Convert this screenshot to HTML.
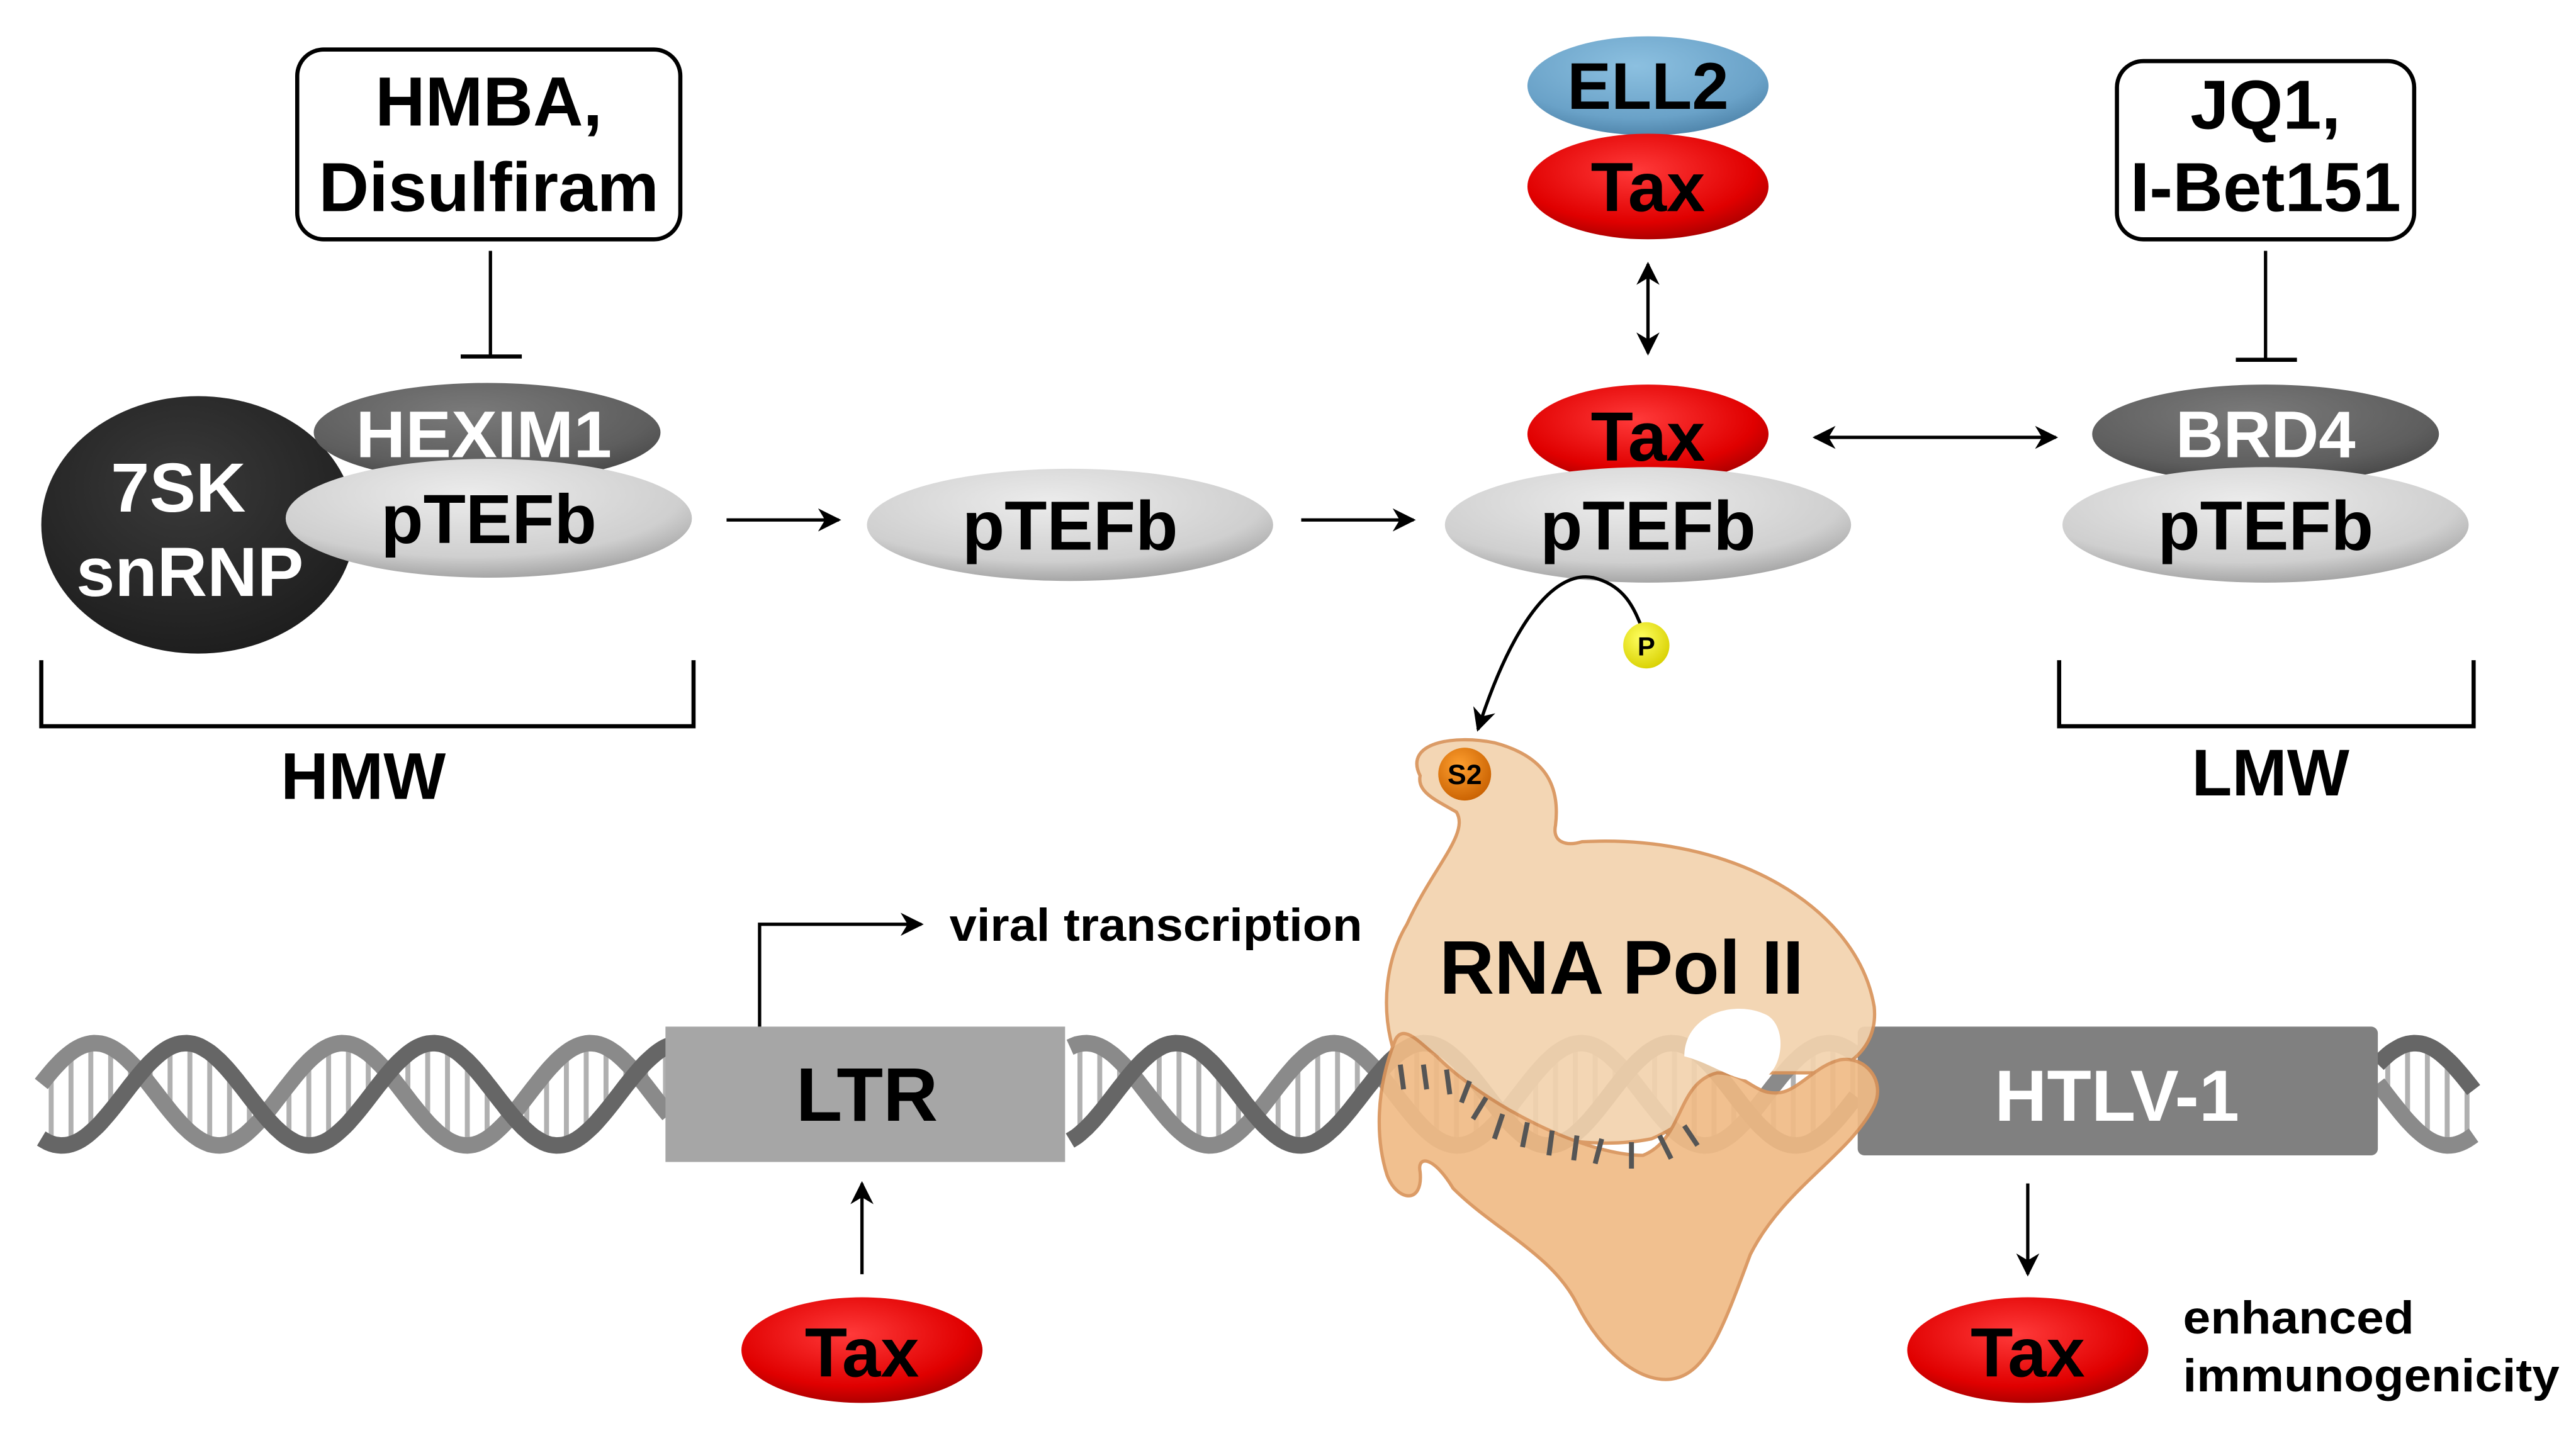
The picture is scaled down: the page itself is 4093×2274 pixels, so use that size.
<!DOCTYPE html>
<html><head><meta charset="utf-8"><style>
html,body{margin:0;padding:0;background:#fff;}
svg{display:block;}
text{font-family:"Liberation Sans",Arial,sans-serif;font-weight:bold;}
</style></head><body>
<svg width="4093" height="2274" viewBox="0 0 1560 867" preserveAspectRatio="none" xmlns="http://www.w3.org/2000/svg">
<defs>
<radialGradient id="gRed" cx="0.45" cy="0.35" r="0.7"><stop offset="0" stop-color="#ff3a3a"/><stop offset="0.7" stop-color="#e00000"/><stop offset="1" stop-color="#a00000"/></radialGradient>
<radialGradient id="gGray" cx="0.45" cy="0.3" r="0.75"><stop offset="0" stop-color="#ececec"/><stop offset="0.7" stop-color="#cfcfcf"/><stop offset="1" stop-color="#9a9a9a"/></radialGradient>
<radialGradient id="gDark" cx="0.45" cy="0.3" r="0.75"><stop offset="0" stop-color="#7a7a7a"/><stop offset="0.7" stop-color="#5e5e5e"/><stop offset="1" stop-color="#444"/></radialGradient>
<radialGradient id="gBlack" cx="0.45" cy="0.35" r="0.75"><stop offset="0" stop-color="#3a3a3a"/><stop offset="1" stop-color="#1a1a1a"/></radialGradient>
<radialGradient id="gBlue" cx="0.45" cy="0.3" r="0.75"><stop offset="0" stop-color="#8cc0e0"/><stop offset="0.7" stop-color="#6aa2c8"/><stop offset="1" stop-color="#4a7fa5"/></radialGradient>
<radialGradient id="gYel" cx="0.4" cy="0.35" r="0.7"><stop offset="0" stop-color="#ffff60"/><stop offset="1" stop-color="#d8d000"/></radialGradient>
<radialGradient id="gOr" cx="0.4" cy="0.35" r="0.7"><stop offset="0" stop-color="#ffa030"/><stop offset="1" stop-color="#c86000"/></radialGradient>
<marker id="ah" viewBox="0 0 10 10" refX="9" refY="5" markerWidth="7" markerHeight="7" orient="auto-start-reverse"><path d="M0,0 L10,5 L0,10 L3,5 Z" fill="#000"/></marker>
</defs>

<rect x="180" y="30" width="232" height="115" rx="16" fill="#fff" stroke="#000" stroke-width="2.5"/>
<text x="296" y="76" font-size="42" text-anchor="middle">HMBA,</text>
<text x="296" y="128" font-size="42" text-anchor="middle" textLength="206" lengthAdjust="spacingAndGlyphs">Disulfiram</text>
<line x1="297" y1="152" x2="297" y2="216" stroke="#000" stroke-width="2"/>
<line x1="279" y1="216" x2="316" y2="216" stroke="#000" stroke-width="2.5"/>

<rect x="1282" y="37" width="180" height="108" rx="16" fill="#fff" stroke="#000" stroke-width="2.5"/>
<text x="1372" y="78" font-size="42" text-anchor="middle">JQ1,</text>
<text x="1372" y="128" font-size="42" text-anchor="middle" textLength="164" lengthAdjust="spacingAndGlyphs">I-Bet151</text>
<line x1="1372" y1="152" x2="1372" y2="218" stroke="#000" stroke-width="2"/>
<line x1="1354" y1="218" x2="1391" y2="218" stroke="#000" stroke-width="2.5"/>

<ellipse cx="120" cy="318" rx="95" ry="78" fill="url(#gBlack)"/>
<ellipse cx="295" cy="262" rx="105" ry="30" fill="url(#gDark)"/>
<text x="293" y="277" font-size="40" fill="#fff" text-anchor="middle" textLength="155" lengthAdjust="spacingAndGlyphs">HEXIM1</text>
<ellipse cx="296" cy="314" rx="123" ry="36" fill="url(#gGray)"/>
<text x="296" y="329" font-size="42" text-anchor="middle">pTEFb</text>
<text x="108" y="310" font-size="42" fill="#fff" text-anchor="middle">7SK</text>
<text x="115" y="361" font-size="42" fill="#fff" text-anchor="middle">snRNP</text>

<line x1="440" y1="315" x2="508" y2="315" stroke="#000" stroke-width="2" marker-end="url(#ah)"/>
<ellipse cx="648" cy="318" rx="123" ry="34" fill="url(#gGray)"/>
<text x="648" y="333" font-size="42" text-anchor="middle">pTEFb</text>
<line x1="788" y1="315" x2="856" y2="315" stroke="#000" stroke-width="2" marker-end="url(#ah)"/>

<ellipse cx="998" cy="52" rx="73" ry="30" fill="url(#gBlue)"/>
<text x="998" y="66" font-size="40" text-anchor="middle">ELL2</text>
<ellipse cx="998" cy="113" rx="73" ry="32" fill="url(#gRed)"/>
<text x="998" y="128" font-size="42" text-anchor="middle">Tax</text>
<line x1="998" y1="160" x2="998" y2="214" stroke="#000" stroke-width="2" marker-start="url(#ah)" marker-end="url(#ah)"/>
<ellipse cx="998" cy="263" rx="73" ry="30" fill="url(#gRed)"/>
<text x="998" y="279" font-size="42" text-anchor="middle">Tax</text>
<ellipse cx="998" cy="318" rx="123" ry="35" fill="url(#gGray)"/>
<text x="998" y="333" font-size="42" text-anchor="middle">pTEFb</text>
<line x1="1099" y1="265" x2="1245" y2="265" stroke="#000" stroke-width="2" marker-start="url(#ah)" marker-end="url(#ah)"/>

<ellipse cx="1372" cy="263" rx="105" ry="30" fill="url(#gDark)"/>
<text x="1372" y="277" font-size="40" fill="#fff" text-anchor="middle">BRD4</text>
<ellipse cx="1372" cy="318" rx="123" ry="35" fill="url(#gGray)"/>
<text x="1372" y="333" font-size="42" text-anchor="middle">pTEFb</text>

<polyline points="25,400 25,440 420,440 420,400" fill="none" stroke="#000" stroke-width="2.5"/>
<text x="220" y="484" font-size="40" text-anchor="middle">HMW</text>
<polyline points="1247,400 1247,440 1498,440 1498,400" fill="none" stroke="#000" stroke-width="2.5"/>
<text x="1375" y="482" font-size="40" text-anchor="middle">LMW</text>

<g id="dna"></g>

<rect x="403" y="622" width="242" height="82" fill="#a6a6a6"/>
<text x="525" y="679" font-size="46" text-anchor="middle">LTR</text>
<rect x="1125" y="622" width="315" height="78" rx="4" fill="#808080"/>
<text x="1282" y="679" font-size="44" fill="#fff" text-anchor="middle">HTLV-1</text>

<g opacity="0.92">
<path d="M860 470 C850 450 880 445 905 450 C935 458 945 475 942 500 C940 510 948 513 958 510 C1050 505 1125 550 1135 610 C1137 630 1125 645 1105 650 L1060 650 C1040 662 1020 682 1000 690 C950 700 880 680 845 640 C835 610 840 580 852 560 C868 525 890 505 882 492 C870 485 858 480 860 470 Z" fill="#f3d3ae" stroke="#d9935a" stroke-width="2"/>
<path d="M845 630 C833 660 833 690 840 712 C846 728 862 730 860 710 C858 700 868 700 880 720 C905 745 940 760 955 790 C970 820 995 840 1015 835 C1035 830 1045 800 1060 760 C1080 720 1120 700 1135 670 C1142 655 1130 640 1115 642 C1100 645 1090 660 1078 662 C1062 664 1058 650 1040 650 C1015 656 1020 690 995 700 C960 700 900 670 870 640 C860 632 850 620 845 630 Z" fill="#f0bb86" stroke="#d9935a" stroke-width="2"/>
</g>
<path d="M1020 640 C1020 615 1050 605 1070 615 C1082 622 1080 645 1070 652 C1055 660 1040 645 1020 640 Z" fill="#fff"/>
<g stroke="#555" stroke-width="3">
<line x1="848" y1="645" x2="850" y2="660"/><line x1="862" y1="645" x2="864" y2="660"/><line x1="876" y1="648" x2="878" y2="663"/>
<line x1="890" y1="655" x2="885" y2="668"/><line x1="900" y1="665" x2="892" y2="678"/><line x1="910" y1="675" x2="905" y2="690"/>
<line x1="925" y1="680" x2="922" y2="695"/><line x1="940" y1="685" x2="938" y2="700"/><line x1="955" y1="688" x2="953" y2="703"/>
<line x1="970" y1="690" x2="966" y2="705"/><line x1="988" y1="692" x2="988" y2="708"/><line x1="1005" y1="688" x2="1012" y2="702"/>
<line x1="1020" y1="682" x2="1028" y2="694"/>
</g>
<text x="982" y="602" font-size="46" text-anchor="middle">RNA Pol II</text>

<path d="M995 382 C990 370 985 355 965 350 C940 345 915 380 895 442" fill="none" stroke="#000" stroke-width="2" marker-end="url(#ah)"/>
<circle cx="997" cy="391" r="14" fill="url(#gYel)"/>
<text x="997" y="397" font-size="16" text-anchor="middle">P</text>
<circle cx="887" cy="469" r="16" fill="url(#gOr)"/>
<text x="887" y="475" font-size="17" text-anchor="middle">S2</text>

<polyline points="460,622 460,560 558,560" fill="none" stroke="#000" stroke-width="2" marker-end="url(#ah)"/>
<text x="575" y="570" font-size="28" textLength="250" lengthAdjust="spacingAndGlyphs">viral transcription</text>

<line x1="522" y1="772" x2="522" y2="717" stroke="#000" stroke-width="2" marker-end="url(#ah)"/>
<ellipse cx="522" cy="818" rx="73" ry="32" fill="url(#gRed)"/>
<text x="522" y="834" font-size="42" text-anchor="middle">Tax</text>
<line x1="1228" y1="717" x2="1228" y2="772" stroke="#000" stroke-width="2" marker-end="url(#ah)"/>
<ellipse cx="1228" cy="818" rx="73" ry="32" fill="url(#gRed)"/>
<text x="1228" y="834" font-size="42" text-anchor="middle">Tax</text>
<text x="1322" y="808" font-size="28" textLength="140" lengthAdjust="spacingAndGlyphs">enhanced</text>
<text x="1322" y="843" font-size="28" textLength="228" lengthAdjust="spacingAndGlyphs">immunogenicity</text>
</svg>
<script>
(function(){
var g=document.getElementById('dna'),ns='http://www.w3.org/2000/svg';
var segs=[[25,405],[648,1125],[1440,1498]];
var P=150,A=31,cy=663;
function y1(x){return cy+A*Math.sin(2*Math.PI*x/P);}
function y2(x){return cy+A*Math.sin(2*Math.PI*x/P+2.3);}
segs.forEach(function(s){
 for(var x=s[0]+6;x<s[1];x+=12){
  var l=document.createElementNS(ns,'line');
  l.setAttribute('x1',x);l.setAttribute('x2',x);
  l.setAttribute('y1',y1(x));l.setAttribute('y2',y2(x));
  l.setAttribute('stroke','#b0b0b0');l.setAttribute('stroke-width','3');g.appendChild(l);
 }
 [[y2,'#8a8a8a'],[y1,'#666']].forEach(function(f){
  var d='';for(var x=s[0];x<=s[1];x+=2){d+=(x==s[0]?'M':'L')+x+' '+f[0](x).toFixed(1);}
  var p=document.createElementNS(ns,'path');p.setAttribute('d',d);
  p.setAttribute('fill','none');p.setAttribute('stroke',f[1]);p.setAttribute('stroke-width','10');g.appendChild(p);
 });
});
})();
</script>
</body></html>
